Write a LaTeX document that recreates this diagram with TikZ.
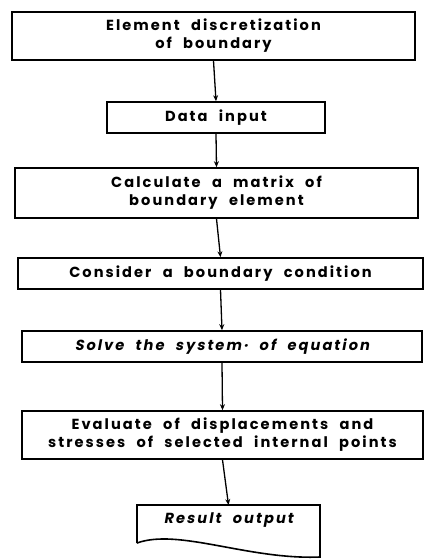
\documentclass[tikz,border=0pt]{standalone}
\usepackage{fontspec}
\newfontfamily\plotfont[LetterSpace=14,WordSpace=2.2]{Poppins}
\newfontfamily\plotslant[LetterSpace=14,WordSpace=2.2,FakeSlant=0.18]{Poppins}
\usetikzlibrary{arrows.meta,calc}

\begin{document}
\begin{tikzpicture}[x=1pt,y=-1pt,
    stepbox/.style={draw,line width=1.6pt,align=center,inner sep=0pt,font=\plotfont\bfseries\fontsize{14.6}{18}\selectfont},
    slanted/.style={font=\plotslant\bfseries\fontsize{14.6}{18}\selectfont},
    flow/.style={line width=1.3pt,-{Stealth[length=6pt,width=5pt]}}]
  \useasboundingbox (0,0) rectangle (425,560);
  \node[stepbox,minimum width=403,minimum height=48] (disc) at (213.5,36) {Element discretization\\of boundary};
  \node[stepbox,minimum width=218,minimum height=31] (data) at (216,117.5) {Data input};
  \node[stepbox,minimum width=403,minimum height=50] (mat) at (216.5,193) {Calculate a matrix of\\boundary element};
  \node[stepbox,minimum width=405,minimum height=31] (cond) at (220.5,273.5) {Consider a boundary condition};
  \node[stepbox,slanted,minimum width=400,minimum height=31] (solve) at (222,346.5) {Solve the system\textperiodcentered{} of equation};
  \node[stepbox,minimum width=401,minimum height=48] (eval) at (222.5,435) {Evaluate of displacements and\\stresses of selected internal points};
  \node[stepbox,slanted,draw=none] (res) at (228.5,520) {Result output};
  \draw[line width=1.6pt] ($(res)+(-91.5,23)$) -- ($(res)+(-91.5,-15)$) -- ($(res)+(91.5,-15)$) -- ($(res)+(91.5,37)$)
    .. controls ($(res)+(20,40)$) and ($(res)+(-50,8)$) .. ($(res)+(-91.5,23)$);
  \coordinate (restop) at ($(res)+(0,-15)$);
  \draw[flow] (disc.south) -- (data.north);
  \draw[flow] (data.south) -- (mat.north);
  \draw[flow] (mat.south) -- (cond.north);
  \draw[flow] (cond.south) -- (solve.north);
  \draw[flow] (solve.south) -- (eval.north);
  \draw[flow] (eval.south) -- (restop);
\end{tikzpicture}
\end{document}
